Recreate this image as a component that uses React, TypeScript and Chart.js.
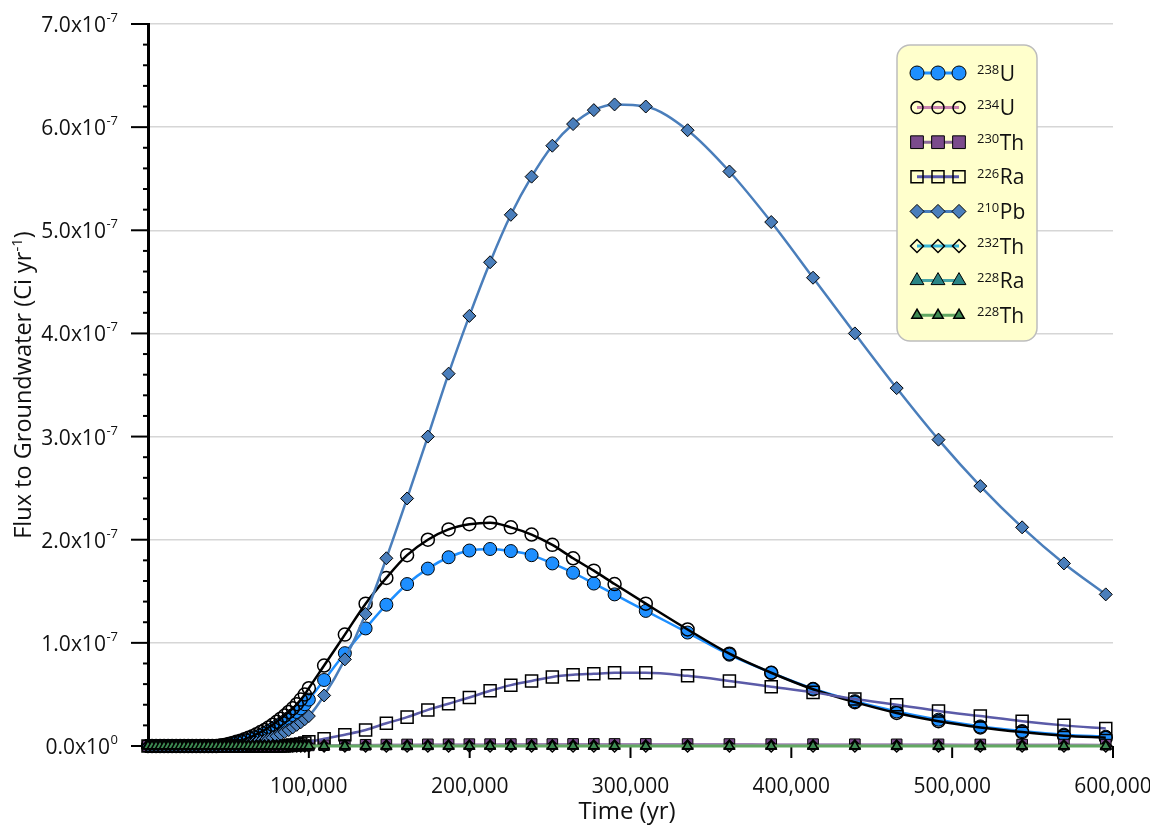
import React, { useEffect, useRef } from 'react';
import { Chart, registerables } from 'chart.js';

Chart.register(...registerables);

const FONT = '"Open Sans", "Noto Sans", "DejaVu Sans", sans-serif';

// Model output times (yr)
const timeYr = [
  0, 2500, 5000, 7500, 10000, 12500, 15000, 17500, 20000, 22500,
  25000, 27500, 30000, 32500, 35000, 37500, 40000, 42500, 45000, 47500,
  50000, 52500, 55000, 57500, 60000, 62500, 65000, 67500, 70000, 72500,
  75000, 77500, 80000, 82500, 85000, 87500, 90000, 92500, 95000, 97500,
  100000,
  109500, 122400, 135300, 148200, 161100, 174000, 186900, 199800, 212700, 225600,
  238500, 251400, 264300, 277200, 290100, 309500, 335500, 361500, 387500, 413500,
  439500, 465500, 491500, 517500, 543500, 569500, 595500,
];

// Flux to groundwater, in units of 1e-7 Ci/yr
const u238Flux = [
  0, 0, 0, 0, 0, 0, 0, 0, 0, 0,
  0, 0, 0, 0, 0, 0, 0, 0, 0.005, 0.01,
  0.015, 0.02, 0.03, 0.04, 0.05, 0.06, 0.075, 0.09, 0.105, 0.125,
  0.145, 0.165, 0.19, 0.215, 0.24, 0.27, 0.3, 0.33, 0.365, 0.405,
  0.45,
  0.64, 0.9, 1.14, 1.37, 1.57, 1.72, 1.83, 1.895, 1.91, 1.89,
  1.85, 1.77, 1.68, 1.575, 1.47, 1.31, 1.1, 0.885, 0.71, 0.555,
  0.435, 0.335, 0.255, 0.19, 0.145, 0.11, 0.09,
];

const u234Flux = [
  0, 0, 0, 0, 0, 0, 0, 0, 0, 0,
  0, 0, 0, 0, 0, 0, 0, 0, 0.005, 0.01,
  0.02, 0.03, 0.04, 0.05, 0.065, 0.08, 0.095, 0.115, 0.135, 0.155,
  0.18, 0.205, 0.235, 0.265, 0.295, 0.33, 0.365, 0.405, 0.45, 0.5,
  0.56,
  0.78, 1.08, 1.38, 1.63, 1.85, 2.0, 2.1, 2.15, 2.165, 2.12,
  2.05, 1.95, 1.82, 1.7, 1.57, 1.38, 1.13, 0.895, 0.71, 0.55,
  0.425, 0.32, 0.24, 0.18, 0.135, 0.1, 0.08,
];

const th230Flux = [
  0, 0, 0, 0, 0, 0, 0, 0, 0, 0,
  0, 0, 0, 0, 0, 0, 0, 0, 0, 0,
  0, 0, 0, 0, 0, 0, 0, 0, 0, 0,
  0, 0, 0, 0, 0, 0, 0.002, 0.003, 0.004, 0.005,
  0.006,
  0.008, 0.01, 0.012, 0.014, 0.015, 0.016, 0.017, 0.018, 0.018, 0.019,
  0.019, 0.019, 0.02, 0.02, 0.02, 0.02, 0.019, 0.019, 0.018, 0.018,
  0.017, 0.016, 0.016, 0.015, 0.014, 0.014, 0.013,
];

const ra226Flux = [
  0, 0, 0, 0, 0, 0, 0, 0, 0, 0,
  0, 0, 0, 0, 0, 0, 0, 0, 0, 0,
  0, 0, 0, 0, 0, 0, 0, 0, 0, 0,
  0, 0, 0, 0, 0, 0.005, 0.01, 0.015, 0.02, 0.03,
  0.04,
  0.07, 0.11, 0.155, 0.22, 0.28, 0.35, 0.41, 0.47, 0.535, 0.59,
  0.63, 0.67, 0.69, 0.7, 0.71, 0.71, 0.68, 0.63, 0.575, 0.52,
  0.455, 0.4, 0.34, 0.29, 0.24, 0.2, 0.17,
];

const pb210Flux = [
  0, 0, 0, 0, 0, 0, 0, 0, 0, 0,
  0, 0, 0, 0, 0, 0, 0, 0, 0, 0,
  0, 0, 0, 0.005, 0.01, 0.015, 0.02, 0.03, 0.04, 0.05,
  0.065, 0.08, 0.095, 0.115, 0.135, 0.155, 0.18, 0.205, 0.23, 0.26,
  0.29,
  0.49, 0.84, 1.28, 1.82, 2.4, 3.0, 3.61, 4.17, 4.69, 5.15,
  5.52, 5.82, 6.03, 6.165, 6.22, 6.2, 5.97, 5.57, 5.08, 4.54,
  4.0, 3.47, 2.97, 2.52, 2.12, 1.77, 1.47,
];

const th232Flux = [
  0, 0, 0, 0, 0, 0, 0, 0, 0, 0,
  0, 0, 0, 0, 0, 0, 0, 0, 0, 0,
  0, 0, 0, 0, 0, 0, 0, 0, 0, 0,
  0, 0, 0, 0, 0, 0, 0, 0, 0, 0,
  0,
  0, 0, 0, 0, 0, 0, 0, 0, 0, 0,
  0, 0, 0, 0, 0, 0, 0, 0, 0, 0,
  0, 0, 0, 0, 0, 0, 0,
];

const ra228Flux = [
  0, 0, 0, 0, 0, 0, 0, 0, 0, 0,
  0, 0, 0, 0, 0, 0, 0, 0, 0, 0,
  0, 0, 0, 0, 0, 0, 0, 0, 0, 0,
  0, 0, 0, 0, 0, 0, 0, 0, 0, 0,
  0,
  0, 0, 0, 0, 0, 0, 0, 0, 0, 0,
  0, 0, 0, 0, 0, 0, 0, 0, 0, 0,
  0, 0, 0, 0, 0, 0, 0,
];

const th228Flux = [
  0, 0, 0, 0, 0, 0, 0, 0, 0, 0,
  0, 0, 0, 0, 0, 0, 0, 0, 0, 0,
  0, 0, 0, 0, 0, 0, 0, 0, 0, 0,
  0, 0, 0, 0, 0, 0, 0, 0, 0, 0,
  0,
  0, 0, 0, 0, 0, 0, 0, 0, 0, 0,
  0, 0, 0, 0, 0, 0, 0, 0, 0, 0,
  0, 0, 0, 0, 0, 0, 0,
];

// Axis ticks and labels
const yMajorTicks = [0, 1, 2, 3, 4, 5, 6, 7];
const yTickMantissas = ['0.0', '1.0', '2.0', '3.0', '4.0', '5.0', '6.0', '7.0'];
const yTickExponents = ['0', '-7', '-7', '-7', '-7', '-7', '-7', '-7'];
const xTickValues = [100000, 200000, 300000, 400000, 500000, 600000];
const xTickLabels = ['100,000', '200,000', '300,000', '400,000', '500,000', '600,000'];

const SERIES = [
  { mass: '238', el: 'U', values: u238Flux, shape: 'circle', r: 6.5, fill: '#1e8fff', bw: 1, line: '#1e8fff', lw: 2.5, legendLine: '#1e8fff', legendR: 7 },
  { mass: '234', el: 'U', values: u234Flux, shape: 'circle', r: 6.5, fill: 'rgba(0,0,0,0)', bw: 1.5, line: '#000000', lw: 2.5, legendLine: '#c982ad', legendR: 6 },
  { mass: '230', el: 'Th', values: th230Flux, shape: 'rect', r: 7.5, fill: '#7b4b8c', bw: 1, line: '#a386b6', lw: 2, legendLine: '#8d6a99', legendR: 9 },
  { mass: '226', el: 'Ra', values: ra226Flux, shape: 'rect', r: 8.5, fill: 'rgba(0,0,0,0)', bw: 1.5, line: '#5b5ba8', lw: 2.5, legendLine: '#5757ad', legendR: 8.5 },
  { mass: '210', el: 'Pb', values: pb210Flux, shape: 'rectRot', r: 6.5, fill: '#4a7ebb', bw: 1, line: '#4a7ebb', lw: 2.5, legendLine: '#4a7ebb', legendR: 7 },
  { mass: '232', el: 'Th', values: th232Flux, shape: 'rectRot', r: 6, fill: 'rgba(0,0,0,0)', bw: 1.5, line: '#38b6d8', lw: 2, legendLine: '#38b6d8', legendR: 6.5 },
  { mass: '228', el: 'Ra', values: ra228Flux, shape: 'triangle', r: 6.5, fill: '#2b8585', bw: 1, line: '#4aa6a6', lw: 2, legendLine: '#4aa6a6', legendR: 8 },
  { mass: '228', el: 'Th', values: th228Flux, shape: 'triangle', r: 5.5, fill: '#3d8a52', bw: 1.5, line: '#62a862', lw: 3, legendLine: '#62a862', legendR: 6 },
];

function drawMarker(ctx: CanvasRenderingContext2D, shape: string, x: number, y: number, r: number, fill: string, bw: number) {
  ctx.beginPath();
  if (shape === 'circle') {
    ctx.arc(x, y, r, 0, Math.PI * 2);
  } else if (shape === 'rect') {
    const h = r * Math.SQRT1_2;
    ctx.rect(x - h, y - h, 2 * h, 2 * h);
  } else if (shape === 'rectRot') {
    ctx.moveTo(x - r, y);
    ctx.lineTo(x, y - r);
    ctx.lineTo(x + r, y);
    ctx.lineTo(x, y + r);
    ctx.closePath();
  } else {
    ctx.moveTo(x, y - r);
    ctx.lineTo(x + r * 0.866, y + r * 0.5);
    ctx.lineTo(x - r * 0.866, y + r * 0.5);
    ctx.closePath();
  }
  ctx.fillStyle = fill;
  ctx.fill();
  ctx.lineWidth = bw;
  ctx.strokeStyle = '#000';
  ctx.stroke();
}

// Axis lines, ticks, labels with superscripts
const axesPlugin = {
  id: 'fluxAxes',
  beforeDatasetsDraw(chart: any) {
    const ctx: CanvasRenderingContext2D = chart.ctx;
    const { left, top, bottom } = chart.chartArea;
    const yS = chart.scales.y;
    const xS = chart.scales.x;
    ctx.save();
    ctx.strokeStyle = '#000';
    ctx.fillStyle = '#111';

    // y axis line
    ctx.lineWidth = 3;
    ctx.beginPath();
    ctx.moveTo(left + 0.5, top - 1);
    ctx.lineTo(left + 0.5, bottom + 1);
    ctx.stroke();

    // y minor ticks
    ctx.lineWidth = 2;
    for (let i = 0; i < yMajorTicks.length - 1; i++) {
      for (let k = 1; k < 5; k++) {
        const py = yS.getPixelForValue(yMajorTicks[i] + k * 0.2);
        ctx.beginPath();
        ctx.moveTo(left - 5, py);
        ctx.lineTo(left, py);
        ctx.stroke();
      }
    }
    // y major ticks and labels
    for (let i = 0; i < yMajorTicks.length; i++) {
      const py = yS.getPixelForValue(yMajorTicks[i]);
      ctx.lineWidth = 2;
      ctx.beginPath();
      ctx.moveTo(left - 17, py);
      ctx.lineTo(left, py);
      ctx.stroke();

      ctx.font = `13px ${FONT}`;
      const sw = ctx.measureText(yTickExponents[i]).width;
      const supLeft = 118 - sw;
      ctx.textAlign = 'left';
      ctx.textBaseline = 'alphabetic';
      ctx.fillText(yTickExponents[i], supLeft, py - 2);
      ctx.font = `21px ${FONT}`;
      ctx.textAlign = 'right';
      ctx.fillText(yTickMantissas[i] + 'x10', supLeft - 0.5, py + 8);
    }

    // x ticks and labels
    for (let i = 0; i < xTickValues.length; i++) {
      const px = xS.getPixelForValue(xTickValues[i]);
      ctx.lineWidth = 2;
      ctx.beginPath();
      ctx.moveTo(px, bottom);
      ctx.lineTo(px, bottom + 12);
      ctx.stroke();
      ctx.font = `21px ${FONT}`;
      ctx.textAlign = 'center';
      ctx.textBaseline = 'alphabetic';
      ctx.fillText(xTickLabels[i], px, bottom + 47);
    }

    // x title
    ctx.font = `24px ${FONT}`;
    ctx.textAlign = 'center';
    ctx.fillText('Time (yr)', 627, 819);

    // y title
    ctx.save();
    const cy = (top + bottom) / 2;
    ctx.translate(31, cy);
    ctx.rotate(-Math.PI / 2);
    ctx.textAlign = 'left';
    const t1 = 'Flux to Groundwater (Ci yr';
    const t2 = '-1';
    const t3 = ')';
    ctx.font = `23.5px ${FONT}`;
    const w1 = ctx.measureText(t1).width;
    const w3 = ctx.measureText(t3).width;
    ctx.font = `15px ${FONT}`;
    const w2 = ctx.measureText(t2).width;
    const x0 = -(w1 + w2 + w3) / 2;
    ctx.font = `23.5px ${FONT}`;
    ctx.fillText(t1, x0, 0);
    ctx.fillText(t3, x0 + w1 + w2, 0);
    ctx.font = `15px ${FONT}`;
    ctx.fillText(t2, x0 + w1, -9);
    ctx.restore();

    ctx.restore();
  },
};

// Legend box with three-marker samples and superscripted isotope names
const legendPlugin = {
  id: 'isotopeLegend',
  afterDraw(chart: any) {
    const ctx: CanvasRenderingContext2D = chart.ctx;
    const bx = 897, by = 45, bw = 140, bh = 296, rad = 13;
    ctx.save();
    ctx.beginPath();
    ctx.moveTo(bx + rad, by);
    ctx.arcTo(bx + bw, by, bx + bw, by + bh, rad);
    ctx.arcTo(bx + bw, by + bh, bx, by + bh, rad);
    ctx.arcTo(bx, by + bh, bx, by, rad);
    ctx.arcTo(bx, by, bx + bw, by, rad);
    ctx.closePath();
    ctx.fillStyle = '#ffffcc';
    ctx.fill();
    ctx.strokeStyle = '#bdbdbd';
    ctx.lineWidth = 1.5;
    ctx.stroke();

    const xs = [917, 938, 959];
    SERIES.forEach((s, i) => {
      const cy = 73 + i * 34.6;
      ctx.strokeStyle = s.legendLine;
      ctx.lineWidth = 3;
      ctx.beginPath();
      ctx.moveTo(xs[0], cy);
      ctx.lineTo(xs[2], cy);
      ctx.stroke();
      xs.forEach((mx) => drawMarker(ctx, s.shape, mx, cy, s.legendR, s.fill, s.bw));

      ctx.fillStyle = '#111';
      ctx.textAlign = 'left';
      ctx.textBaseline = 'alphabetic';
      ctx.font = `13px ${FONT}`;
      ctx.fillText(s.mass, 977, cy + 1);
      const mw = ctx.measureText(s.mass).width;
      ctx.font = `21px ${FONT}`;
      ctx.fillText(s.el, 977 + mw + 0.5, cy + 7.5);
    });
    ctx.restore();
  },
};

export default function App() {
  const canvasRef = useRef<HTMLCanvasElement | null>(null);

  useEffect(() => {
    const canvas = canvasRef.current;
    if (!canvas) return;
    const datasets = SERIES.map((s, i) => ({
      label: s.mass + s.el,
      data: timeYr.map((t, k) => ({ x: t, y: s.values[k] })),
      borderColor: s.line,
      borderWidth: s.lw,
      backgroundColor: s.fill,
      pointStyle: s.shape,
      pointRadius: s.r,
      pointBackgroundColor: s.fill,
      pointBorderColor: '#000',
      pointBorderWidth: s.bw,
      cubicInterpolationMode: 'monotone',
      fill: false,
      clip: false,
      order: SERIES.length - i,
    }));

    const chart = new Chart(canvas, {
      type: 'line',
      data: { datasets } as any,
      options: {
        responsive: false,
        animation: false,
        devicePixelRatio: 1,
        layout: { padding: { top: 24, right: 37, left: 0, bottom: 0 } },
        plugins: {
          legend: { display: false },
          tooltip: { enabled: false },
        },
        scales: {
          x: {
            type: 'linear',
            min: 0,
            max: 600000,
            ticks: { display: false, stepSize: 100000 },
            grid: { display: false },
            border: { display: false },
            afterFit: (s: any) => { s.height = 82; },
          },
          y: {
            type: 'linear',
            min: 0,
            max: 7,
            ticks: { display: false, stepSize: 1 },
            grid: { color: '#d6d6d6', lineWidth: 1.5, drawTicks: false },
            border: { display: false },
            afterFit: (s: any) => { s.width = 148; },
          },
        },
      } as any,
      plugins: [axesPlugin, legendPlugin],
    });
    return () => chart.destroy();
  }, []);

  return (
    <div style={{ position: 'fixed', left: 0, top: 0, width: 1150, height: 828, background: '#fff' }}>
      <canvas ref={canvasRef} width={1150} height={828} style={{ display: 'block' }} />
    </div>
  );
}
